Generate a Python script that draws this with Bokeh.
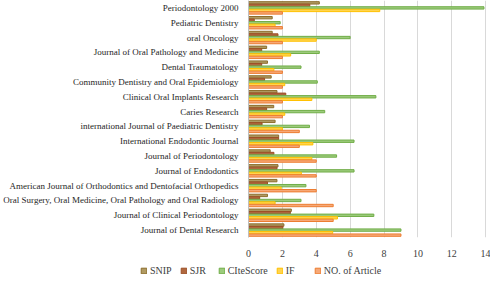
from bokeh.plotting import figure
from bokeh.layouts import column
from bokeh.models import ColumnDataSource, FactorRange, Legend, LegendItem, SingleIntervalTicker
from bokeh.transform import dodge
from bokeh.embed import file_html
from bokeh.resources import INLINE

journals = [
    "Periodontology 2000",
    "Pediatric Dentistry",
    "oral Oncology",
    "Journal of Oral Pathology and Medicine",
    "Dental Traumatology",
    "Community Dentistry and Oral Epidemiology",
    "Clinical Oral Implants Research",
    "Caries Research",
    "international Journal of Paediatric Dentistry",
    "International Endodontic Journal",
    "Journal of Periodontology",
    "Journal of Endodontics",
    "American Journal of Orthodontics and Dentofacial Orthopedics",
    "Oral Surgery, Oral Medicine, Oral Pathology and Oral Radiology",
    "Journal of Clinical Periodontology",
    "Journal of Dental Research",
]
snip = [4.18, 1.40, 1.40, 1.07, 1.12, 1.34, 1.68, 1.49, 1.57, 1.78, 1.28, 1.74, 1.68, 1.12, 2.53, 2.09]
sjr = [3.62, 0.34, 1.74, 0.78, 0.78, 0.95, 2.20, 1.07, 0.80, 1.78, 1.50, 1.68, 1.12, 0.66, 2.47, 2.03]
citescore = [13.9, 1.87, 6.0, 4.18, 3.10, 4.06, 7.52, 4.50, 3.60, 6.23, 5.20, 6.23, 3.39, 3.10, 7.40, 9.0]
impact = [7.75, 1.57, 4.0, 2.49, 1.50, 2.14, 3.74, 2.14, 2.00, 3.80, 3.74, 3.12, 1.93, 1.57, 5.25, 4.97]
articles = [2, 2, 2, 2, 2, 2, 2, 2, 3, 3, 4, 4, 4, 5, 5, 9]

series_names = ["SNIP", "SJR", "CIteScore", "IF", "NO. of Article"]
series_keys = ["snip", "sjr", "cite", "impact", "articles"]
fills = ["#b09a62", "#b0683f", "#9ccb7c", "#ffd44f", "#f6a877"]
lines = ["#8c6d2c", "#9c4f26", "#70ad47", "#ffc000", "#ed7d31"]
offsets = [0.34, 0.17, 0.0, -0.17, -0.34]

source = ColumnDataSource(dict(
    journal=journals, snip=snip, sjr=sjr, cite=citescore, impact=impact, articles=articles,
))

font = "Liberation Serif"
factors = list(reversed(journals))

p = figure(
    width=490, height=259,
    y_range=FactorRange(factors=factors, range_padding=0.0),
    x_range=(0, 14.05),
    output_backend="svg", toolbar_location=None,
    min_border_left=0, min_border_right=4, min_border_top=0, min_border_bottom=0,
)
p.outline_line_color = None
p.frame_align = False

for key, fc, lc, off in zip(series_keys, fills, lines, offsets):
    p.hbar(y=dodge("journal", off, range=p.y_range), right=key, left=0, height=0.16,
           source=source, fill_color=fc, line_color=lc, line_width=1)

p.xaxis.ticker = SingleIntervalTicker(interval=2)
p.xaxis.axis_line_color = None
p.xaxis.major_tick_line_color = None
p.xaxis.minor_tick_line_color = None
p.xaxis.major_label_text_font = font
p.xaxis.major_label_text_font_size = "10px"
p.xaxis.major_label_text_color = "#404040"
p.xaxis.major_label_standoff = 6

p.yaxis.axis_line_color = "#bfbfbf"
p.yaxis.major_tick_line_color = None
p.yaxis.minor_tick_line_color = None
p.yaxis.major_label_text_font = font
p.yaxis.major_label_text_font_size = "9px"
p.yaxis.major_label_text_color = "#262626"
p.yaxis.major_label_standoff = 4

p.ygrid.grid_line_color = None
p.xgrid.grid_line_color = "#d9d9d9"

# legend strip below the chart (its renderers stay hidden; only their legend swatches show)
lg = figure(width=490, height=18, x_range=(0, 1), y_range=(0, 1),
            x_axis_location=None, y_axis_location=None,
            output_backend="svg", toolbar_location=None,
            min_border_left=0, min_border_right=0, min_border_top=0, min_border_bottom=0)
lg.frame_align = False
lg.grid.visible = False
lg.outline_line_color = None
items = []
for name, key, fc, lc in zip(series_names, series_keys, fills, lines):
    r = lg.hbar(y=key, right=key, left=0, height=0.5, source=source,
                fill_color=fc, line_color=lc, line_width=1, visible=False)
    items.append(LegendItem(label=name, renderers=[r]))

legend = Legend(items=items, orientation="horizontal", location=(140, 1),
                label_text_font=font, label_text_font_size="10px", label_text_color="#404040",
                glyph_width=7, glyph_height=7, spacing=8, label_standoff=3,
                padding=0, margin=0, background_fill_alpha=0, border_line_color=None,
                label_height=10, inactive_fill_alpha=0)
lg.add_layout(legend, "center")

layout = column(p, lg, spacing=0)
open("out.html", "w").write(file_html(layout, INLINE))
